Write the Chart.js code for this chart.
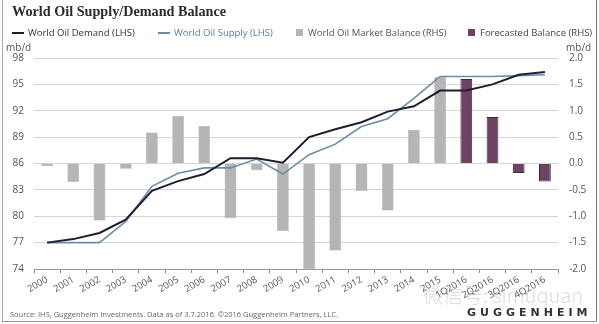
<!DOCTYPE html>
<html>
<head>
<meta charset="utf-8">
<script src="https://cdn.jsdelivr.net/npm/chart.js@4"></script>
<style>
  html, body { margin: 0; padding: 0; background: #fff; }
  #wrap { position: relative; width: 599px; height: 324px; background: #fff; overflow: hidden; font-family: "Open Sans", "Noto Sans", sans-serif; }
  #c { position: absolute; left: 0; top: 0; }
  .abs { position: absolute; white-space: nowrap; }
  #title { left: 12px; top: 3px; font-family: "Liberation Serif", serif; font-weight: bold; font-size: 14.2px; color: #2b2b2b; }
  #legend { left: 0; top: 26px; height: 14px; width: 599px; font-size: 9.5px; }
  .lg { position: absolute; top: 0; line-height: 14px; }
  .dash { position: absolute; top: 6px; width: 12px; height: 2px; }
  .sq { position: absolute; top: 3px; width: 7px; height: 7px; }
  .unit { font-size: 10px; color: #555; top: 40px; }
  #source { left: 10px; top: 309px; font-size: 7.5px; color: #666; }
  #logo { left: 467px; top: 306px; font-family: "DejaVu Sans", sans-serif; font-weight: bold; font-size: 11px; letter-spacing: 4px; color: #333; }
  #wm { left: 423px; top: 280px; font-family: "Noto Sans CJK SC", sans-serif; font-size: 20px; color: rgba(140,140,140,0.32); font-weight: 300; }
  #frameL { left: 2px; top: 0; width: 1px; height: 322px; background: #aaa; }
  #frameR { left: 596px; top: 0; width: 1px; height: 322px; background: #777; }
  #frameB { left: 2px; top: 321px; width: 595px; height: 1px; background: #999; }
</style>
</head>
<body>
<div id="wrap">
  <canvas id="c" width="599" height="324"></canvas>
  <div id="title" class="abs">World Oil Supply/Demand Balance</div>
  <div id="legend" class="abs"></div>
  <div class="abs unit" style="left:6px;">mb/d</div>
  <div class="abs unit" style="left:566px;">mb/d</div>
  <div id="source" class="abs">Source: IHS, Guggenheim Investments. Data as of 3.7.2016. ©2016 Guggenheim Partners, LLC.</div>
  <div id="wm" class="abs">微信号: simuquan</div>
  <div id="logo" class="abs">GUGGENHEIM</div>
  <div id="frameL" class="abs"></div>
  <div id="frameR" class="abs"></div>
  <div id="frameB" class="abs"></div>
</div>
<script>
// Years, then the 2016 quarters that are forecast
const categories = ['2000','2001','2002','2003','2004','2005','2006','2007','2008','2009',
  '2010','2011','2012','2013','2014','2015','1Q2016','2Q2016','3Q2016','4Q2016'];

// Left axis, million barrels per day
const demand = [77.0, 77.4, 78.1, 79.6, 82.9, 84.0, 84.8, 86.6, 86.6, 86.1,
  89.0, 89.9, 90.7, 91.9, 92.5, 94.3, 94.3, 95.0, 96.1, 96.4];
const supply = [77.0, 77.0, 77.0, 79.4, 83.4, 84.9, 85.5, 85.5, 86.5, 84.8,
  87.0, 88.2, 90.2, 91.1, 93.4, 95.9, 95.9, 95.9, 96.0, 96.1];

// Right axis, supply minus demand
const marketBalance = [-0.05, -0.35, -1.08, -0.10, 0.59, 0.90, 0.71, -1.04, -0.13, -1.28,
  -2.00, -1.65, -0.52, -0.89, 0.64, 1.64, null, null, null, null];
const forecastBalance = [null, null, null, null, null, null, null, null, null, null,
  null, null, null, null, null, null, 1.60, 0.88, -0.18, -0.34];

// Axis ticks
const leftTicks = [74, 77, 80, 83, 86, 89, 92, 95, 98];
const rightTicks = [-2.0, -1.5, -1.0, -0.5, 0.0, 0.5, 1.0, 1.5, 2.0];

const seriesNames = ['World Oil Demand (LHS)', 'World Oil Supply (LHS)',
  'World Oil Market Balance (RHS)', 'Forecasted Balance (RHS)'];

const C = {
  demand: '#1f1d33',
  supply: '#6b8ea3',
  market: '#b5b5b5',
  forecast: '#6e4262',
  forecastEdge: '#3e2a38',
  grid: '#d6d6d6',
  tick: '#555'
};

// Legend row
const legendItems = [
  { name: seriesNames[0], kind: 'dash', color: C.demand, text: '#333', x: 12 },
  { name: seriesNames[1], kind: 'dash', color: C.supply, text: '#5b7f99', x: 158 },
  { name: seriesNames[2], kind: 'sq', color: C.market, text: '#555', x: 296 },
  { name: seriesNames[3], kind: 'sq', color: C.forecast, text: '#444', x: 468 }
];
const legend = document.getElementById('legend');
legendItems.forEach(it => {
  const mark = document.createElement('div');
  mark.className = it.kind;
  mark.style.left = it.x + 'px';
  mark.style.background = it.color;
  legend.appendChild(mark);
  const t = document.createElement('div');
  t.className = 'lg';
  t.style.left = (it.x + (it.kind === 'dash' ? 16 : 12)) + 'px';
  t.style.color = it.text;
  t.textContent = it.name;
  legend.appendChild(t);
});

const tickFont = { family: '"Open Sans", "Noto Sans", sans-serif', size: 10 };

new Chart(document.getElementById('c'), {
  data: {
    labels: categories,
    datasets: [
      {
        type: 'line', label: seriesNames[0], data: demand, yAxisID: 'yL',
        borderColor: C.demand, borderWidth: 2, pointRadius: 0, tension: 0, order: 0
      },
      {
        type: 'line', label: seriesNames[1], data: supply, yAxisID: 'yL',
        borderColor: C.supply, borderWidth: 1.6, pointRadius: 0, tension: 0, order: 0
      },
      {
        type: 'bar', label: seriesNames[2], data: marketBalance, yAxisID: 'yR',
        backgroundColor: C.market, borderColor: '#a8a8a8', borderWidth: 0.5,
        barPercentage: 0.45, categoryPercentage: 1, grouped: false, order: 1
      },
      {
        type: 'bar', label: seriesNames[3], data: forecastBalance, yAxisID: 'yR',
        backgroundColor: C.forecast, borderColor: C.forecastEdge, borderWidth: 1,
        barPercentage: 0.45, categoryPercentage: 1, grouped: false, order: 1
      }
    ]
  },
  options: {
    responsive: false,
    animation: false,
    layout: { padding: { top: 58, left: 0, right: 0, bottom: 0 } },
    plugins: { legend: { display: false }, tooltip: { enabled: false } },
    scales: {
      x: {
        offset: true,
        afterFit: s => { s.height = 55; },
        grid: { display: true, drawOnChartArea: false, drawTicks: true, tickLength: 4, color: '#888', offset: true },
        border: { display: true, color: '#999' },
        ticks: {
          autoSkip: false, maxRotation: 30, minRotation: 30, padding: 1,
          color: C.tick, font: { family: tickFont.family, size: 9.5 }
        }
      },
      yL: {
        position: 'left', min: 74, max: 98,
        afterFit: s => { s.width = 34; },
        afterBuildTicks: s => { s.ticks = leftTicks.map(v => ({ value: v })); },
        grid: { color: C.grid, drawTicks: false },
        border: { display: false },
        ticks: { padding: 10, color: C.tick, font: tickFont }
      },
      yR: {
        position: 'right', min: -2, max: 2,
        afterFit: s => { s.width = 41; },
        afterBuildTicks: s => { s.ticks = rightTicks.map(v => ({ value: v })); },
        grid: { drawOnChartArea: false, drawTicks: false },
        border: { display: false },
        ticks: { padding: 11, color: C.tick, font: tickFont, callback: v => Number(v).toFixed(1) }
      }
    }
  }
});
</script>
</body>
</html>
